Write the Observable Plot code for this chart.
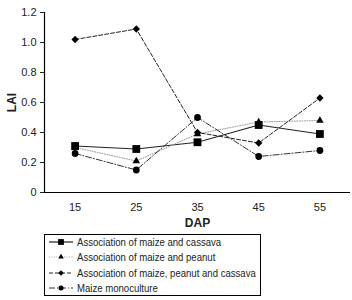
<!DOCTYPE html>
<html><head><meta charset="utf-8">
<script src="https://cdn.jsdelivr.net/npm/d3@7"></script>
<script src="https://cdn.jsdelivr.net/npm/@observablehq/plot@0.6"></script>
<style>
body{margin:0;background:#fff;font-family:"Liberation Sans",Arial,sans-serif;}
#wrap{position:relative;width:352px;height:300px;}
#legend{position:absolute;left:44px;top:234px;width:217px;height:62px;border:1px solid #000;box-sizing:border-box;font-size:11px;color:#222;}
.row{position:absolute;left:3px;height:14px;display:flex;align-items:center;white-space:nowrap;}
.row svg{margin-right:3px;flex:none;}
.row span{display:inline-block;transform:scaleX(0.87);transform-origin:left center;}
</style></head>
<body><div id="wrap"><div id="chart"></div><div id="legend"></div></div>
<script>
const days = [15, 25, 35, 45, 55];
const seriesNames = ["Association of maize and cassava","Association of maize and peanut","Association of maize, peanut and cassava","Maize monoculture"];
const cassava = [0.31, 0.29, 0.335, 0.45, 0.39];
const peanut = [0.30, 0.21, 0.39, 0.47, 0.48];
const peanutCassava = [1.02, 1.09, 0.40, 0.33, 0.63];
const mono = [0.26, 0.15, 0.50, 0.24, 0.28];
const yTicks = [0, 0.2, 0.4, 0.6, 0.8, 1.0, 1.2];
const yTickLabels = ["0","0.2","0.4","0.6","0.8","1.0","1.2"];

const styles = [
  {stroke:"#222", dash:null, symbol:"square", r:4.4, width:1.2},
  {stroke:"#999", dash:"1,1.5", symbol:"triangle", r:2.8, width:1},
  {stroke:"#222", dash:"4,2", symbol:"diamond2", r:3.3, width:1},
  {stroke:"#333", dash:"6,2,1,2", symbol:"circle", r:3.4, width:1}
];
const values = [cassava, peanut, peanutCassava, mono];
const data = values.map((vals, i) => days.map((d, j) => ({dap:d, lai:vals[j], s:i})));

const marks = [];
data.forEach((rows, i) => {
  const st = styles[i];
  marks.push(Plot.line(rows, {x:"dap", y:"lai", stroke:st.stroke, strokeWidth:st.width, strokeDasharray:st.dash}));
});
data.forEach((rows, i) => {
  const st = styles[i];
  marks.push(Plot.dot(rows, {x:"dap", y:"lai", symbol:()=>st.symbol, r:st.r, fill:"#000", stroke:"none"}));
});

const fmt = d => yTickLabels[yTicks.indexOf(d)];
const chart = Plot.plot({
  width:352, height:300,
  marginLeft:44, marginRight:2, marginTop:12, marginBottom:108,
  style:{fontFamily:'"Liberation Sans",Arial,sans-serif', fontSize:"11px", color:"#222", background:"#fff"},
  x:{domain:[10,60], ticks:days, tickSize:0, tickPadding:11, label:null},
  y:{domain:[0,1.2], ticks:yTicks, tickFormat:fmt, tickSize:4, tickPadding:4, label:null},
  symbol:{type:"identity"},
  marks:[
    ...marks,
    Plot.ruleX([10], {stroke:"#000", strokeWidth:1.2}),
    Plot.ruleY([0], {stroke:"#000", strokeWidth:1.2}),
    Plot.axisX({ticks:days, tickSize:0, tickPadding:11, label:"DAP", labelAnchor:"center", labelArrow:"none", labelOffset:34}),
    Plot.axisY({ticks:yTicks, tickFormat:fmt, tickSize:4, tickPadding:4, label:"LAI", labelAnchor:"center", labelArrow:"none", labelOffset:37})
  ]
});
d3.select(chart).selectAll('[aria-label="x-axis label"] text, [aria-label="y-axis label"] text').attr("font-weight","bold").attr("font-size","12px");
document.getElementById("chart").appendChild(chart);

const legend = document.getElementById("legend");
const symMap = {square:d3.symbolSquare, triangle:d3.symbolTriangle, diamond2:d3.symbolDiamond2, circle:d3.symbolCircle};
seriesNames.forEach((name, i) => {
  const st = styles[i];
  const row = document.createElement("div");
  row.className = "row";
  row.style.top = (i*15.4) + "px";
  const sw = d3.create("svg").attr("width",26).attr("height",12);
  sw.append("line").attr("x1",1).attr("x2",25).attr("y1",6).attr("y2",6)
    .attr("stroke",st.stroke).attr("stroke-width",st.width).attr("stroke-dasharray",st.dash);
  const sz = st.r*st.r*Math.PI*0.55;
  sw.append("path").attr("transform","translate(13,6)").attr("d", d3.symbol(symMap[st.symbol], sz)()).attr("fill","#000");
  row.appendChild(sw.node());
  const t = document.createElement("span");
  t.textContent = name;
  row.appendChild(t);
  legend.appendChild(row);
});
</script></body></html>
